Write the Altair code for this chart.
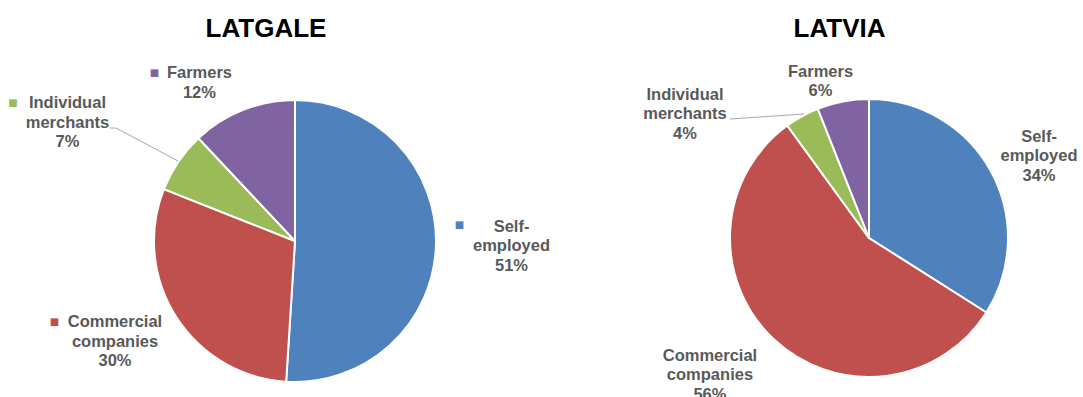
import altair as alt
import pandas as pd

# ---- data ----
regions = ["LATGALE", "LATVIA"]
categories = ["Self-employed", "Commercial companies", "Individual merchants", "Farmers"]
label_lines = ["Self-\nemployed", "Commercial\ncompanies", "Individual\nmerchants", "Farmers"]
latgale_share = [51, 30, 7, 12]
latvia_share = [34, 56, 4, 6]
colors = ["#4F81BD", "#C0504D", "#9BBB59", "#8064A2"]

rows = []
for region, shares in zip(regions, [latgale_share, latvia_share]):
    for i, (cat, lab, v) in enumerate(zip(categories, label_lines, shares)):
        rows.append(dict(region=region, category=cat, order=i, value=v,
                         label=f"{lab}\n{v}%"))
df = pd.DataFrame(rows)
titles = pd.DataFrame({"region": regions})

# ---- layout / styling ----
FONT = "Liberation Sans, Arial, sans-serif"
TXT = "#595959"
layout = {
    "LATGALE": dict(cx=295, cy=241, r=141, label_r=190, title_x=266, markers=True,
                    nudges={"Self-employed": (26.6, -15), "Commercial companies": (-19.6, -15.8),
                            "Individual merchants": (-70.4, -26.2), "Farmers": (-25.6, 13.7)},
                    marker_off={"Self-employed": (-52, -7), "Commercial companies": (-60.5, -5),
                                "Individual merchants": (-54.5, -5), "Farmers": (-45, -5)},
                    leaders=[(110, 128, 116, 128), (116, 128, 178, 161)]),
    "LATVIA": dict(cx=869, cy=238, r=139, label_r=185, title_x=839.5, markers=False,
                   nudges={"Self-employed": (7.9, -6.9), "Commercial companies": (-32.4, -11.9),
                           "Individual merchants": (-94.9, 24.1), "Farmers": (-13.8, 20.7)},
                   marker_off={},
                   leaders=[(730, 119, 804, 114)]),
}

theta_scale = alt.Scale(domain=[0, 100])
color_scale = alt.Scale(domain=categories, range=colors)
base = alt.Chart(df)
dummy = alt.Chart(pd.DataFrame({"a": [0]}))

layers = []
for region in regions:
    L = layout[region]
    sub = base.transform_filter(alt.datum.region == region)
    arcs = sub.mark_arc(radius=L["r"], stroke="white", strokeWidth=2).encode(
        theta=alt.Theta("value:Q", stack=True, scale=theta_scale),
        color=alt.Color("category:N", scale=color_scale, legend=None),
        order=alt.Order("order:Q"),
        x=alt.value(L["cx"]), y=alt.value(L["cy"]),
    )
    layers.append(arcs)

    for (x1, y1, x2, y2) in L["leaders"]:
        layers.append(dummy.mark_rule(color="#A6A6A6", strokeWidth=1).encode(
            x=alt.value(x1), y=alt.value(y1), x2=alt.value(x2), y2=alt.value(y2)))

    mids = sub.transform_window(
        cum="sum(value)", sort=[alt.SortField("order")], frame=[None, 0]
    ).transform_calculate(mid="datum.cum - datum.value / 2")

    for cat in categories:
        dx, dy = L["nudges"][cat]
        one = mids.transform_filter(alt.datum.category == cat)
        layers.append(one.mark_text(
            radius=L["label_r"], dx=dx, dy=dy, align="center", baseline="alphabetic",
            lineBreak="\n", lineHeight=19.5, font=FONT, fontSize=16.5,
            fontWeight="bold", color=TXT,
        ).encode(
            theta=alt.Theta("mid:Q", stack=None, scale=theta_scale),
            text="label:N",
            x=alt.value(L["cx"]), y=alt.value(L["cy"]),
        ))
        if L["markers"]:
            ox, oy = L["marker_off"][cat]
            layers.append(one.mark_text(
                text="\u25A0", radius=L["label_r"], dx=dx + ox, dy=dy + oy,
                align="center", baseline="middle", font="DejaVu Sans", fontSize=10,
            ).encode(
                theta=alt.Theta("mid:Q", stack=None, scale=theta_scale),
                color=alt.Color("category:N", scale=color_scale, legend=None),
                x=alt.value(L["cx"]), y=alt.value(L["cy"]),
            ))

    layers.append(alt.Chart(titles).transform_filter(alt.datum.region == region).mark_text(
        font=FONT, fontSize=26, fontWeight="bold", color="black",
        align="center", baseline="alphabetic",
    ).encode(text="region:N", x=alt.value(L["title_x"]), y=alt.value(37)))

chart = alt.layer(*layers).properties(
    width=1083, height=397, autosize="none", padding=0
).configure_view(stroke=None)

chart.save("out.html", embed_options={"renderer": "svg", "actions": False})
